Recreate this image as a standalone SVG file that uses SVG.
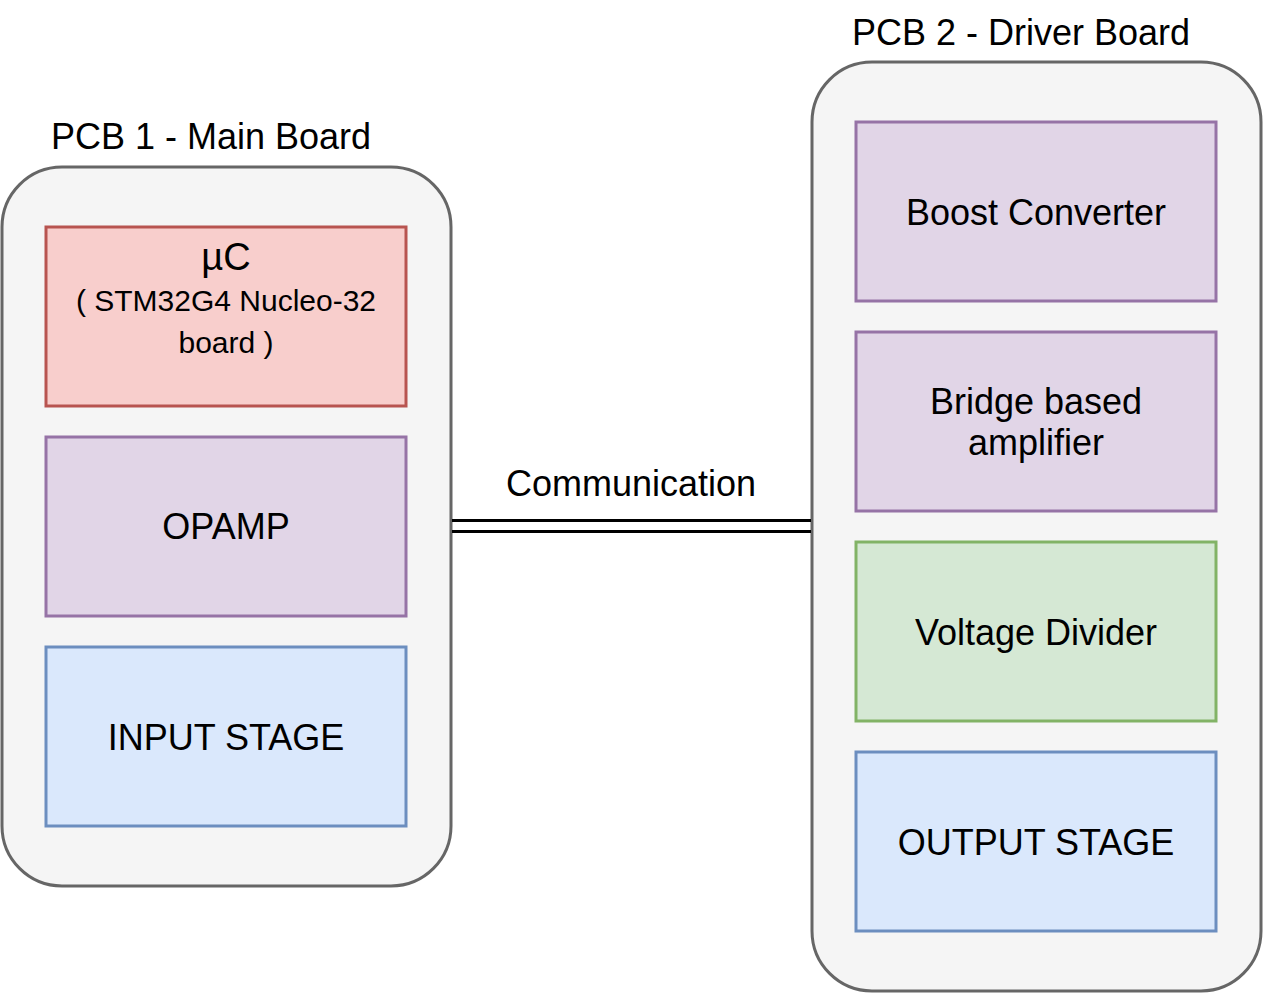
<svg xmlns="http://www.w3.org/2000/svg" width="1266" height="996" viewBox="0 0 1266 996">
<style>
text{font-family:"Liberation Sans",Arial,sans-serif;fill:#000;text-anchor:middle}
.t{font-size:36px}
.s{font-size:30px}
.pcb{fill:#f5f5f5;stroke:#666666;stroke-width:3}
.red{fill:#f8cecc;stroke:#b85450;stroke-width:3}
.pur{fill:#e1d5e7;stroke:#9673a6;stroke-width:3}
.grn{fill:#d5e8d4;stroke:#82b366;stroke-width:3}
.blu{fill:#dae8fc;stroke:#6c8ebf;stroke-width:3}
.link{stroke:#000;stroke-width:3;fill:none}
</style>
<rect width="1266" height="996" fill="#ffffff"/>
<g id="pcb1">
<rect class="pcb" x="2" y="167" width="449" height="719" rx="60" ry="60"/>
<text class="t" x="211" y="149">PCB 1 - Main Board</text>
</g>
<g id="pcb2">
<rect class="pcb" x="812" y="62" width="449" height="929" rx="60" ry="60"/>
<text class="t" x="1021" y="45">PCB 2 - Driver Board</text>
</g>
<g id="connectors">
<line class="link" x1="452" y1="520.5" x2="811" y2="520.5"/>
<line class="link" x1="452" y1="531.5" x2="811" y2="531.5"/>
<text class="t" x="631" y="496">Communication</text>
</g>
<g id="uc">
<rect class="red" x="46" y="227" width="360" height="179"/>
<text style="font-size:38px" x="226" y="270">µC</text>
<text class="s" x="226" y="311">( STM32G4 Nucleo-32</text>
<text class="s" x="226" y="353">board )</text>
</g>
<g id="opamp">
<rect class="pur" x="46" y="437" width="360" height="179"/>
<text class="t" x="226" y="539">OPAMP</text>
</g>
<g id="input">
<rect class="blu" x="46" y="647" width="360" height="179"/>
<text class="t" x="226" y="750">INPUT STAGE</text>
</g>
<g id="boost">
<rect class="pur" x="856" y="122" width="360" height="179"/>
<text class="t" x="1036" y="225">Boost Converter</text>
</g>
<g id="bridge">
<rect class="pur" x="856" y="332" width="360" height="179"/>
<text class="t" x="1036" y="414">Bridge based</text>
<text class="t" x="1036" y="455">amplifier</text>
</g>
<g id="divider">
<rect class="grn" x="856" y="542" width="360" height="179"/>
<text class="t" x="1036" y="645">Voltage Divider</text>
</g>
<g id="output">
<rect class="blu" x="856" y="752" width="360" height="179"/>
<text class="t" x="1036" y="855">OUTPUT STAGE</text>
</g>
</svg>
